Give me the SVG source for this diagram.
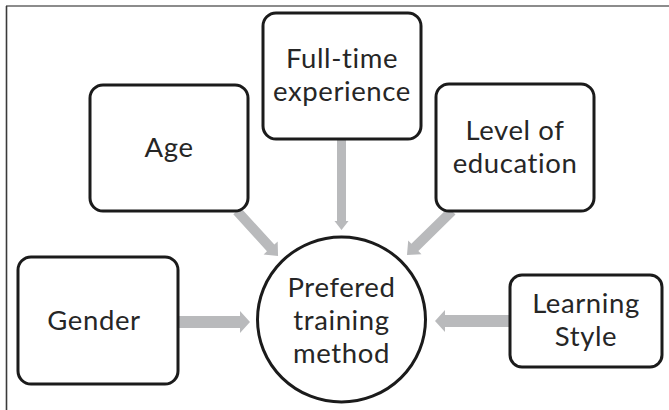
<svg xmlns="http://www.w3.org/2000/svg" width="669" height="410" viewBox="0 0 669 410">
  <style>
    .box { fill: #ffffff; stroke: #1b1b1b; stroke-width: 3; }
    .hub { fill: #ffffff; stroke: #1b1b1b; stroke-width: 3; }
    .arrow { fill: #b9babc; stroke: none; }
    .label { font-family: Lato, "Open Sans", "Liberation Sans", sans-serif; font-size: 27.5px; letter-spacing: 0.6px; fill: #262626; text-anchor: middle; }
  </style>

  <!-- page frame: top rule and left rule -->
  <line x1="6" y1="6" x2="669" y2="6" stroke="#8c8c8c" stroke-width="2"/>
  <line x1="6.5" y1="6" x2="6.5" y2="410" stroke="#3a3a3a" stroke-width="1.6"/>

  <!-- block arrows pointing into the central ellipse -->
  <g id="connectors">
    <!-- Gender -> hub -->
    <g transform="translate(178,322)">
      <polygon class="arrow" points="0,-6 62,-6 62,-11 72,0 62,11 62,6 0,6"/>
    </g>
    <!-- Learning Style -> hub -->
    <g transform="translate(510,321) rotate(180)">
      <polygon class="arrow" points="0,-6 65,-6 65,-11 75,0 65,11 65,6 0,6"/>
    </g>
    <!-- Full-time experience -> hub -->
    <g transform="translate(341.5,140) rotate(90)">
      <polygon class="arrow" points="0,-4.5 81,-4.5 81,-7 90,0 81,7 81,4.5 0,4.5"/>
    </g>
    <!-- Age -> hub -->
    <g transform="translate(237,211) rotate(47.7)">
      <polygon class="arrow" points="0,-5 50,-5 50,-9.5 61,0 50,9.5 50,5 0,5"/>
    </g>
    <!-- Level of education -> hub -->
    <g transform="translate(452,211) rotate(135.6)">
      <polygon class="arrow" points="0,-5 52,-5 52,-9.5 63,0 52,9.5 52,5 0,5"/>
    </g>
  </g>

  <g id="node-fulltime">
    <rect class="box" x="263" y="13" width="158" height="126" rx="13"/>
    <text class="label" x="342" y="68">Full-time</text>
    <text class="label" x="342" y="101">experience</text>
  </g>

  <g id="node-age">
    <rect class="box" x="90" y="85" width="158" height="126" rx="13"/>
    <text class="label" x="169" y="157">Age</text>
  </g>

  <g id="node-education">
    <rect class="box" x="436" y="84" width="158" height="127" rx="13"/>
    <text class="label" x="515" y="140">Level of</text>
    <text class="label" x="515" y="173">education</text>
  </g>

  <g id="node-gender">
    <rect class="box" x="18" y="257" width="160" height="127" rx="13"/>
    <text class="label" x="94" y="330">Gender</text>
  </g>

  <g id="node-learning">
    <rect class="box" x="510" y="275" width="152" height="92" rx="12"/>
    <text class="label" x="586" y="313">Learning</text>
    <text class="label" x="586" y="346">Style</text>
  </g>

  <g id="node-method">
    <ellipse class="hub" cx="341.5" cy="319.5" rx="84" ry="82.5"/>
    <text class="label" x="341.5" y="297">Prefered</text>
    <text class="label" x="341.5" y="330">training</text>
    <text class="label" x="341.5" y="363">method</text>
  </g>
</svg>
